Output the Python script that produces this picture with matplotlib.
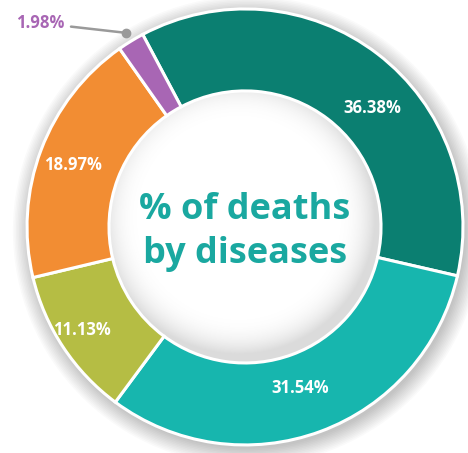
import numpy as np
import matplotlib
matplotlib.use("Agg")
from matplotlib import pyplot as plt
from matplotlib.patches import Circle, Wedge

# share of deaths, clockwise from the top
diseases = ["A", "B", "C", "D", "E"]
shares = [36.38, 31.54, 11.13, 18.97, 1.98]
labels = ["36.38%", "31.54%", "11.13%", "18.97%", "1.98%"]
colors = ["#0b7f71", "#17b6ae", "#b5bd44", "#f28d33", "#a866b4"]

plt.rcParams["font.family"] = ["Open Sans", "DejaVu Sans"]

fig = plt.figure(figsize=(4.68, 4.53), dpi=100)
ax = fig.add_axes([0, 0, 1, 1])

# soft shadow round the outside of the ring
for k in range(12):
    ax.add_patch(Wedge((0.012, -0.018), 1.0 + k * 0.007, 0, 360, width=0.05 + k * 0.007,
                       color="#000000", alpha=0.02, lw=0, zorder=0))

wedges, _ = ax.pie(shares, colors=colors, startangle=118, counterclock=False,
                   radius=1.0,
                   wedgeprops=dict(width=0.376, edgecolor="white", linewidth=2.2))
for w in wedges:
    w.set_zorder(2)

# inner shadow in the hole
n = 300
g = np.linspace(-0.624, 0.624, n)
xx, yy = np.meshgrid(g, g)
d = np.sqrt((xx + 0.03) ** 2 + (yy - 0.04) ** 2) / 0.624
shade = np.clip((d - 0.7) / 0.3, 0, 1) ** 2.5
img = np.ones((n, n, 4))
img[..., 0:3] = 0.6
img[..., 3] = shade * 0.35
im = ax.imshow(img, extent=(-0.624, 0.624, -0.624, 0.624), origin="lower",
               zorder=1, interpolation="bilinear")
im.set_clip_path(Circle((0, 0), 0.624, transform=ax.transData))

# percentage labels
label_pos = [(0.585, 0.545), (0.252, -0.739), (-0.748, -0.472), (-0.790, 0.284)]
for lab, (x, y) in zip(labels[:4], label_pos):
    ax.text(x, y, lab, color="white", fontsize=12, fontweight="bold",
            ha="center", va="center", zorder=5)

# small slice gets a callout
w = wedges[4]
mid = np.deg2rad((w.theta1 + w.theta2) / 2)
px, py = 1.045 * np.cos(mid), 1.045 * np.sin(mid)
ax.plot([px], [py], "o", color="#9a9a9a", ms=6, zorder=5)
ax.annotate(labels[4], xy=(px, py), xytext=(-0.83, 0.935),
            color="#a866b4", fontsize=12, fontweight="bold",
            ha="right", va="center", zorder=5,
            arrowprops=dict(arrowstyle="-", color="#9a9a9a", lw=1.8,
                            shrinkA=3, shrinkB=0))

ax.text(0, -0.025, "% of deaths\nby diseases", color="#1aa8a0", fontsize=26,
        fontweight="bold", ha="center", va="center", linespacing=1.3, zorder=5)

ax.set_xlim(-1.124, 1.023)
ax.set_ylim(-1.037, 1.041)
ax.set_aspect("auto")
ax.axis("off")

fig.savefig("out.png", dpi=100)
